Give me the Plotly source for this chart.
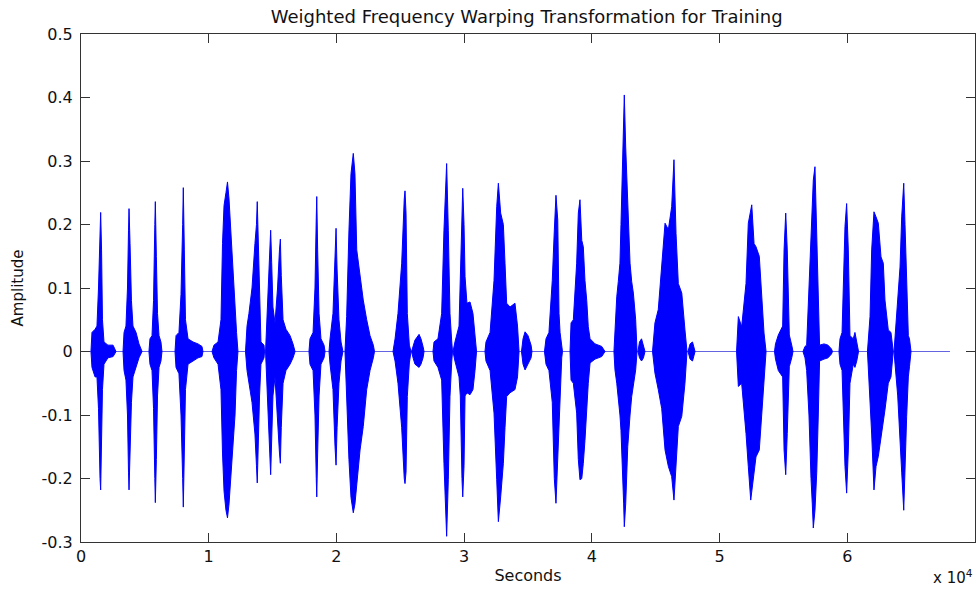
import plotly.graph_objects as go

# Envelope of each voiced burst in the training utterance:
# sample index, upper (positive) peak and lower (negative) peak amplitude.
burst_samples = [
    [780, 860, 1100, 1250, 1370, 1490, 1540, 1610, 1680, 1800, 2110, 2510, 2660, 2740],
    [3290, 3370, 3520, 3640, 3720, 3760, 3840, 3950, 4070, 4310, 4540, 4780],
    [5320, 5400, 5560, 5680, 5780, 5820, 5900, 5990, 6110, 6260, 6340],
    [7360, 7440, 7670, 7830, 7960, 8010, 8090, 8180, 8380, 8770, 9160, 9470, 9550],
    [10260, 10410, 10730, 10960, 11080, 11200, 11350, 11470, 11590, 11750, 11900, 12060, 12180, 12290],
    [12880, 13000, 13150, 13390, 13620, 13740, 13800, 13880, 13980, 14090, 14330, 14370],
    [14450, 14490, 14640, 14780, 14850, 14930, 15030, 15190, 15390, 15540, 15610, 15680, 15820, 16050, 16370, 16600, 16760],
    [17850, 17930, 18170, 18320, 18420, 18460, 18530, 18640, 18790, 19030, 19110],
    [19420, 19500, 19730, 19890, 19970, 20050, 20200, 20360, 20510],
    [20670, 20800, 20980, 21140, 21320, 21450, 21590, 21850, 22100, 22370, 22630, 22890, 22980],
    [24430, 24590, 24820, 25110, 25310, 25370, 25450, 25550, 25710, 25840],
    [25880, 26000, 26150, 26470, 26620, 26780, 26860],
    [27560, 27640, 27950, 28240, 28420, 28630, 28760, 28890, 29030, 29090],
    [29130, 29280, 29600, 29700, 29830, 29890, 29990, 30070, 30220, 30460, 30690, 30850, 30970],
    [31630, 31710, 32030, 32340, 32550, 32680, 32860, 33070, 33200, 33330, 33590, 33980, 34180, 34300],
    [34490, 34610, 34770, 35000, 35240, 35310],
    [36290, 36410, 36640, 36900, 37060, 37190, 37330, 37430, 37510, 37640, 37700],
    [38290, 38370, 38550, 38810, 38940, 39070, 39210, 39330, 39460, 39600, 39720, 39860, 40250, 40770, 41030],
    [41730, 41810, 41950, 42070, 42200, 42280, 42380, 42490, 42540, 42650, 42810, 42990, 43120, 43250, 43430, 43540],
    [43610, 43730, 43890, 44040, 44160],
    [44750, 44940, 45200, 45470, 45730, 45990, 46250, 46430, 46590, 46770, 47040, 47290, 47450],
    [47530, 47690, 47880, 48080],
    [51330, 51470, 51730, 52070, 52250, 52440, 52520, 52700, 52850, 53110, 53300, 53480, 53640],
    [54300, 54380, 54600, 54940, 55050, 55180, 55300, 55460, 55650, 55750],
    [56530, 56690, 56820, 57000, 57160, 57260, 57340, 57470, 57610, 57730, 57830, 58180, 58490, 58760, 58840],
    [59350, 59430, 59590, 59690, 59820, 59950, 60080, 60210, 60470, 60600, 60740, 60880],
    [61580, 61660, 61780, 61910, 62090, 62250, 62430, 62640, 62820, 62950, 63210, 63420, 63600],
    [63660, 63740, 63950, 64130, 64260, 64420, 64520, 64650, 64780, 64870, 64990],
]

burst_upper = [
    [0, 0.03, 0.035, 0.04, 0.1, 0.19, 0.219, 0.16, 0.05, 0.015, 0.01, 0.01, 0.003, 0],
    [0, 0.03, 0.04, 0.1, 0.19, 0.225, 0.17, 0.08, 0.04, 0.03, 0.012, 0],
    [0, 0.02, 0.025, 0.08, 0.2, 0.236, 0.15, 0.06, 0.025, 0.015, 0],
    [0, 0.025, 0.03, 0.09, 0.2, 0.258, 0.16, 0.05, 0.02, 0.015, 0.012, 0.008, 0],
    [0, 0.01, 0.015, 0.05, 0.17, 0.23, 0.25, 0.267, 0.24, 0.18, 0.13, 0.07, 0.03, 0],
    [0, 0.04, 0.06, 0.1, 0.17, 0.2, 0.236, 0.16, 0.08, 0.015, 0.01, 0],
    [0, 0.02, 0.08, 0.16, 0.191, 0.14, 0.07, 0.045, 0.1, 0.16, 0.177, 0.12, 0.05, 0.035, 0.025, 0.012, 0],
    [0, 0.02, 0.03, 0.1, 0.21, 0.244, 0.16, 0.06, 0.02, 0.01, 0],
    [0, 0.02, 0.06, 0.15, 0.194, 0.13, 0.05, 0.015, 0],
    [0, 0.055, 0.19, 0.28, 0.312, 0.28, 0.16, 0.118, 0.081, 0.05, 0.025, 0.01, 0],
    [0, 0.02, 0.06, 0.139, 0.24, 0.253, 0.218, 0.06, 0.01, 0],
    [0, 0.01, 0.018, 0.027, 0.02, 0.008, 0],
    [0, 0.015, 0.02, 0.06, 0.191, 0.296, 0.191, 0.06, 0.015, 0],
    [0, 0.015, 0.04, 0.118, 0.24, 0.257, 0.2, 0.118, 0.076, 0.078, 0.06, 0.03, 0],
    [0, 0.015, 0.03, 0.112, 0.228, 0.265, 0.218, 0.2, 0.139, 0.076, 0.07, 0.076, 0.04, 0],
    [0, 0.02, 0.031, 0.025, 0.01, 0],
    [0, 0.02, 0.03, 0.112, 0.19, 0.246, 0.207, 0.06, 0.03, 0.008, 0],
    [0, 0.045, 0.05, 0.139, 0.218, 0.239, 0.175, 0.165, 0.112, 0.08, 0.039, 0.02, 0.012, 0.008, 0],
    [0, 0.034, 0.086, 0.11, 0.139, 0.2, 0.27, 0.375, 0.404, 0.322, 0.218, 0.139, 0.11, 0.092, 0.05, 0],
    [0, 0.015, 0.02, 0.01, 0],
    [0, 0.045, 0.066, 0.13, 0.202, 0.192, 0.228, 0.302, 0.186, 0.107, 0.092, 0.034, 0],
    [0, 0.012, 0.015, 0],
    [0, 0.055, 0.039, 0.107, 0.202, 0.228, 0.231, 0.17, 0.165, 0.15, 0.081, 0.029, 0],
    [0, 0.012, 0.026, 0.04, 0.16, 0.218, 0.16, 0.026, 0.01, 0],
    [0, 0.008, 0.01, 0.107, 0.202, 0.254, 0.27, 0.291, 0.181, 0.081, 0.01, 0.012, 0.01, 0.004, 0],
    [0, 0.02, 0.03, 0.107, 0.197, 0.233, 0.16, 0.025, 0.02, 0.03, 0.015, 0],
    [0, 0.02, 0.055, 0.16, 0.22, 0.212, 0.202, 0.149, 0.139, 0.081, 0.034, 0.03, 0],
    [0, 0.025, 0.081, 0.133, 0.212, 0.265, 0.2, 0.092, 0.025, 0.02, 0],
]

burst_lower = [
    [0, -0.025, -0.04, -0.04, -0.09, -0.2, -0.218, -0.17, -0.06, -0.02, -0.01, -0.008, -0.003, 0],
    [0, -0.03, -0.045, -0.1, -0.19, -0.218, -0.16, -0.08, -0.04, -0.025, -0.01, 0],
    [0, -0.02, -0.03, -0.09, -0.2, -0.238, -0.17, -0.07, -0.025, -0.015, 0],
    [0, -0.025, -0.035, -0.1, -0.2, -0.245, -0.17, -0.06, -0.02, -0.015, -0.01, -0.008, 0],
    [0, -0.01, -0.02, -0.06, -0.16, -0.22, -0.25, -0.262, -0.24, -0.2, -0.15, -0.1, -0.03, 0],
    [0, -0.03, -0.05, -0.08, -0.13, -0.18, -0.207, -0.155, -0.07, -0.02, -0.01, 0],
    [0, -0.02, -0.08, -0.16, -0.194, -0.15, -0.07, -0.04, -0.1, -0.16, -0.176, -0.12, -0.05, -0.03, -0.02, -0.01, 0],
    [0, -0.02, -0.03, -0.1, -0.2, -0.229, -0.16, -0.07, -0.02, -0.01, 0],
    [0, -0.02, -0.06, -0.15, -0.179, -0.12, -0.05, -0.015, 0],
    [0, -0.05, -0.17, -0.23, -0.254, -0.24, -0.207, -0.155, -0.118, -0.06, -0.03, -0.01, 0],
    [0, -0.015, -0.05, -0.12, -0.2, -0.208, -0.19, -0.071, -0.018, 0],
    [0, -0.01, -0.02, -0.025, -0.02, -0.01, 0],
    [0, -0.015, -0.025, -0.045, -0.176, -0.291, -0.202, -0.071, -0.015, 0],
    [0, -0.015, -0.04, -0.07, -0.2, -0.229, -0.18, -0.07, -0.065, -0.068, -0.06, -0.03, 0],
    [0, -0.015, -0.03, -0.097, -0.202, -0.268, -0.229, -0.176, -0.12, -0.071, -0.065, -0.06, -0.04, 0],
    [0, -0.02, -0.029, -0.02, -0.01, 0],
    [0, -0.02, -0.03, -0.08, -0.2, -0.239, -0.15, -0.1, -0.071, -0.01, 0],
    [0, -0.045, -0.05, -0.097, -0.17, -0.202, -0.2, -0.176, -0.14, -0.097, -0.05, -0.018, -0.012, -0.008, 0],
    [0, -0.029, -0.05, -0.071, -0.1, -0.124, -0.17, -0.24, -0.276, -0.24, -0.15, -0.1, -0.071, -0.05, -0.029, 0],
    [0, -0.01, -0.015, -0.01, 0],
    [0, -0.034, -0.06, -0.09, -0.155, -0.181, -0.197, -0.234, -0.18, -0.118, -0.102, -0.05, 0],
    [0, -0.012, -0.015, 0],
    [0, -0.055, -0.05, -0.129, -0.181, -0.234, -0.225, -0.19, -0.166, -0.155, -0.102, -0.05, 0],
    [0, -0.012, -0.03, -0.04, -0.155, -0.194, -0.129, -0.024, -0.01, 0],
    [0, -0.01, -0.03, -0.1, -0.2, -0.24, -0.278, -0.25, -0.19, -0.1, -0.015, -0.012, -0.01, -0.004, 0],
    [0, -0.02, -0.03, -0.102, -0.181, -0.223, -0.155, -0.05, -0.02, -0.025, -0.015, 0],
    [0, -0.02, -0.076, -0.13, -0.218, -0.181, -0.165, -0.129, -0.11, -0.092, -0.05, -0.04, 0],
    [0, -0.02, -0.07, -0.14, -0.19, -0.25, -0.181, -0.102, -0.04, -0.024, 0],
]

# Silent baseline running over the whole recording
signal_start = 0
signal_end = 68040

x_tick_values = [0, 10000, 20000, 30000, 40000, 50000, 60000, 70000]
x_tick_labels = ["0", "1", "2", "3", "4", "5", "6", "7"]
y_tick_values = [-0.3, -0.2, -0.1, 0, 0.1, 0.2, 0.3, 0.4, 0.5]
y_tick_labels = ["-0.3", "-0.2", "-0.1", "0", "0.1", "0.2", "0.3", "0.4", "0.5"]

# Each burst becomes a closed outline: upper envelope forward, lower envelope back.
poly_x, poly_y = [], []
for xs, hi, lo in zip(burst_samples, burst_upper, burst_lower):
    poly_x += xs + xs[::-1] + [xs[0], None]
    poly_y += hi + lo[::-1] + [hi[0], None]

FONT = "DejaVu Sans, Arial, sans-serif"
INK = "#111111"

fig = go.Figure()
fig.add_trace(go.Scatter(
    x=[signal_start, signal_end], y=[0, 0], mode="lines",
    line=dict(color="rgb(100,100,225)", width=1), hoverinfo="skip",
))
fig.add_trace(go.Scatter(
    x=poly_x, y=poly_y, mode="lines", fill="toself",
    fillcolor="rgb(0,0,255)", line=dict(color="rgb(0,0,255)", width=1),
    connectgaps=False, hoverinfo="skip",
))

axis_common = dict(
    showgrid=False, zeroline=False, showline=True, linecolor="#333333", linewidth=1,
    mirror="ticks", ticks="inside", ticklen=9, tickcolor="#333333", tickwidth=1,
    tickfont=dict(family=FONT, size=16, color=INK),
)

fig.update_layout(
    width=979, height=589,
    margin=dict(l=81, r=4, t=34, b=47),
    paper_bgcolor="white", plot_bgcolor="white",
    showlegend=False,
    title=dict(
        text="Weighted Frequency Warping Transformation for Training",
        x=0.538, xanchor="center", y=0.971, yanchor="middle",
        font=dict(family=FONT, size=18, color=INK),
    ),
    xaxis=dict(
        range=[0, 70000], tickvals=x_tick_values, ticktext=x_tick_labels,
        title=dict(text="Seconds", font=dict(family=FONT, size=16, color=INK), standoff=4),
        **axis_common,
    ),
    yaxis=dict(
        range=[-0.3, 0.5], tickvals=y_tick_values, ticktext=y_tick_labels,
        ticklabelstandoff=4,
        title=dict(text="Amplitude", font=dict(family=FONT, size=15, color=INK), standoff=14),
        **axis_common,
    ),
    annotations=[
        dict(
            text="x 10<sup>4</sup>", xref="paper", yref="paper", x=1.0, y=-0.068,
            xanchor="right", yanchor="middle", showarrow=False,
            font=dict(family=FONT, size=15, color=INK),
        )
    ],
)

fig.write_html("out.html")
